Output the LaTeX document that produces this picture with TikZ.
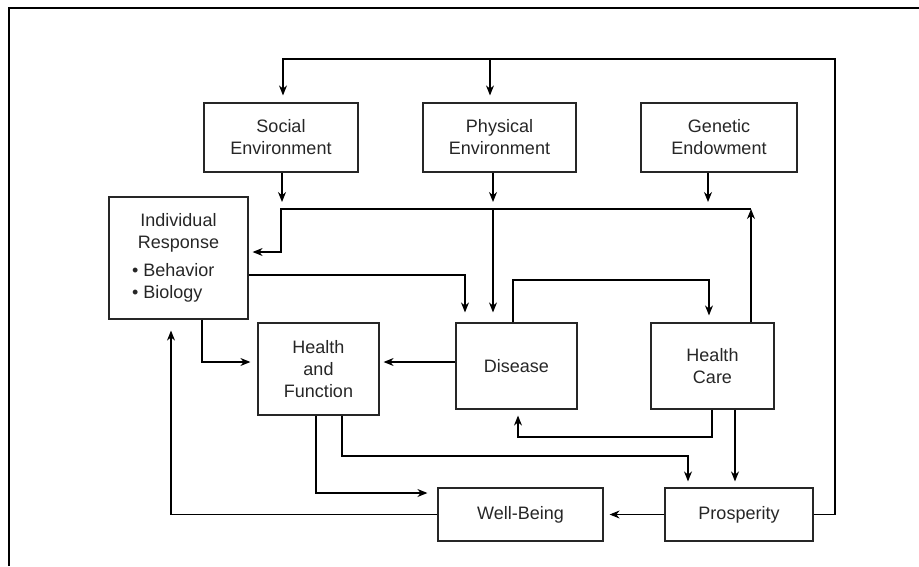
\documentclass[tikz,border=0pt]{standalone}
\usepackage{fontspec}
\setmainfont{Liberation Sans}
\usepackage{tikz}
\usetikzlibrary{arrows,arrows.meta}

\begin{document}
\begin{tikzpicture}[
    x=1pt, y=-1pt,
    box/.style={draw, line width=1.2pt, align=center, inner sep=0pt},
    pile/.style={line width=1.3pt, ->, >={Stealth[length=10pt,width=8pt]},
    shorten >=7pt},
    every node/.style={color=black!85, font=\fontsize{18}{22}\selectfont}
    ]
    \useasboundingbox (0,0) rectangle (919,566);
    % frame
    \draw[line width=2pt] (9,566) -- (9,8) -- (919,8);
    % determinants
    \node[box, minimum width=154pt, minimum height=69pt] (soc) at (281,137.5)
        {Social\\Environment};
    \node[box, minimum width=153pt, minimum height=69pt] (phys) at (499.5,137.5)
        {Physical\\Environment};
    \node[box, minimum width=156pt, minimum height=69pt] (gen) at (719,137.5)
        {Genetic\\Endowment};
    \node[box, minimum width=139pt, minimum height=122pt] (indiv) at (178.5,258)
        {Individual\\Response\\[6pt]\makebox[93pt][l]{\textbullet\ Behavior}\\
        \makebox[93pt][l]{\textbullet\ Biology}};
    % outcomes
    \node[box, minimum width=121pt, minimum height=92pt] (hf) at (318.5,369)
        {Health\\and\\Function};
    \node[box, minimum width=121pt, minimum height=86pt] (dis) at (516.5,366)
        {Disease};
    \node[box, minimum width=123pt, minimum height=86pt] (hc) at (712.5,366)
        {Health\\Care};
    \node[box, minimum width=165pt, minimum height=53pt] (well) at (520.5,514.5)
        {Well-Being};
    \node[box, minimum width=148pt, minimum height=53pt] (prosp) at (739,514.5)
        {Prosperity};
    % bend points
    \coordinate (fbR) at (835,59);
    \coordinate (fbS) at (283,59);
    \coordinate (fbP) at (490,59);
    \coordinate (jS) at (282,209);
    \coordinate (jP) at (493,209);
    \coordinate (jG) at (708,209);
    \coordinate (jH) at (751,209);
    \coordinate (jL) at (281,252);
    \coordinate (bA) at (465,275);
    \coordinate (bB) at (202,362);
    \coordinate (bC) at (513,280);
    \coordinate (bD) at (709,280);
    \coordinate (bE) at (712,437);
    \coordinate (bF) at (518,437);
    \coordinate (bG) at (735,437);
    \coordinate (bH) at (316,493);
    \coordinate (bI) at (342,456);
    \coordinate (bJ) at (688,456);
    \coordinate (bK) at (171,515);
    % feedback from prosperity
    \draw[pile] (prosp.east) -| (fbR) -- (fbS) -- (soc.north -| fbS);
    \draw[pile] (fbP) -- (phys.north -| fbP);
    % into the junction line
    \draw[pile] (soc.south -| jS) -- (jS);
    \draw[pile] (phys.south -| jP) -- (jP);
    \draw[pile, shorten >=10pt] (jP) -- (dis.north -| jP);
    \draw[pile] (gen.south -| jG) -- (jG);
    \draw[pile, shorten >=0pt] (hc.north -| jH) -- (jH);
    \draw[pile, shorten >=4pt] (jH) -| (jL) -- (indiv.east |- jL);
    % individual response
    \draw[pile, shorten >=10pt] (indiv.east |- bA) -| (dis.north -| bA);
    \draw[pile] (indiv.south -| bB) |- (hf.west |- bB);
    % disease and health care
    \draw[pile, shorten >=4pt] (dis.west |- bB) -- (hf.east |- bB);
    \draw[pile] (dis.north -| bC) -- (bC) -- (bD) -- (hc.north -| bD);
    \draw[pile, shorten >=6pt] (hc.south -| bE) -- (bE) -- (bF) -- (dis.south -| bF);
    \draw[pile, shorten >=6pt] (hc.south -| bG) -- (prosp.north -| bG);
    % health and function
    \draw[pile, shorten >=10pt] (hf.south -| bH) |- (well.west |- bH);
    \draw[pile, shorten >=6pt] (hf.south -| bI) -- (bI) -- (bJ) -- (prosp.north -| bJ);
    % well-being
    \draw[pile, shorten >=6pt] (prosp.west) -- (well.east);
    \draw[pile, shorten >=11pt] (well.west) -| (indiv.south -| bK);
\end{tikzpicture}
\end{document}
